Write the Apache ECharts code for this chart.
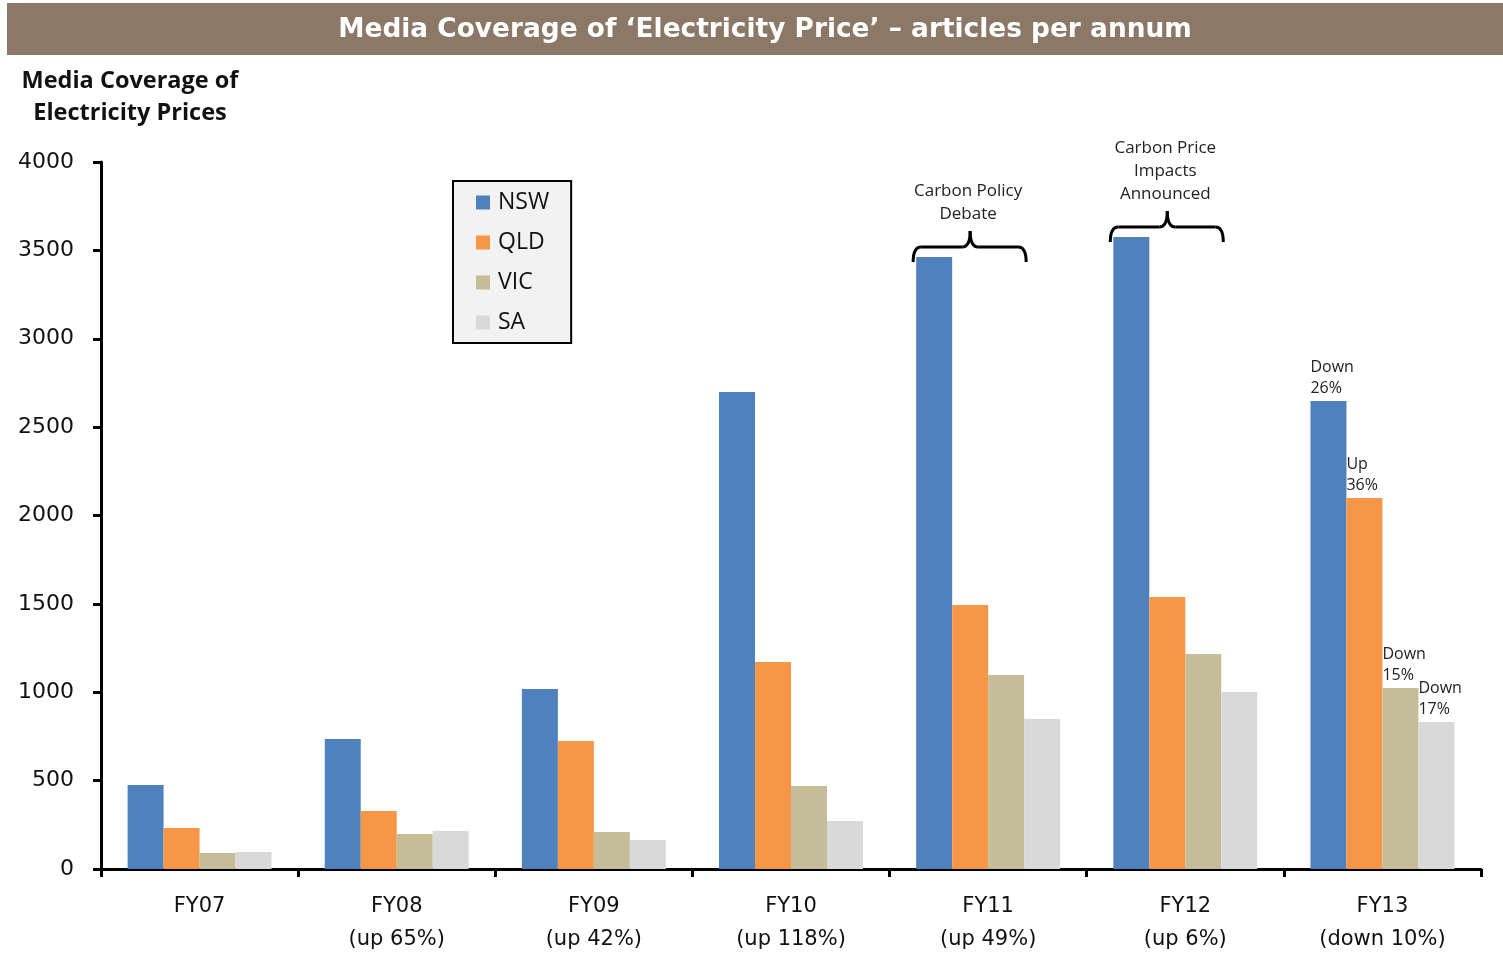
<!DOCTYPE html>
<html><head><meta charset="utf-8">
<script src="https://cdn.jsdelivr.net/npm/echarts@6/dist/echarts.min.js"></script>
<style>html,body{margin:0;padding:0;background:#fff}#c{width:1503px;height:958px}</style>
</head><body><div id="c"></div>
<script>
const categories = ['FY07','FY08','FY09','FY10','FY11','FY12','FY13'];
const changes = ['', '(up 65%)', '(up 42%)', '(up 118%)', '(up 49%)', '(up 6%)', '(down 10%)'];
const nsw = [475, 735, 1018, 2699, 3462, 3576, 2648];
const qld = [232, 328, 724, 1171, 1494, 1539, 2099];
const vic = [90, 198, 209, 470, 1098, 1216, 1024];
const sa  = [96, 215, 164, 272, 849, 1001, 832];
const nswNotes = ['', '', '', '', '', '', 'Down\n26%'];
const qldNotes = ['', '', '', '', '', '', 'Up\n36%'];
const vicNotes = ['', '', '', '', '', '', 'Down\n15%'];
const saNotes  = ['', '', '', '', '', '', 'Down\n17%'];
const yTicks = [0, 500, 1000, 1500, 2000, 2500, 3000, 3500, 4000];
const annotations = [
  {category: 'FY11', text: 'Carbon Policy\nDebate'},
  {category: 'FY12', text: 'Carbon Price\nImpacts\nAnnounced'}
];
const seriesNames = ['NSW', 'QLD', 'VIC', 'SA'];
const colors = ['#4F81BD', '#F79646', '#C4BD97', '#D9D9D9'];

const chart = echarts.init(document.getElementById('c'), null, {renderer: 'canvas'});

function mk(vals, notes) {
  return vals.map((v, i) => notes[i] ? {value: v, label: {show: true, formatter: notes[i]}} : v);
}
const labelBase = {
  show: false, position: [0, -2], align: 'left', verticalAlign: 'bottom',
  fontFamily: 'Open Sans', fontSize: 16, lineHeight: 21, color: '#222'
};
const allData = [mk(nsw, nswNotes), mk(qld, qldNotes), mk(vic, vicNotes), mk(sa, saNotes)];

chart.setOption({
  animation: false,
  backgroundColor: '#fff',
  color: colors,
  grid: {left: 101, right: 22, top: 162, bottom: 89, containLabel: false},
  legend: {
    orient: 'vertical', left: 453, top: 181,
    data: seriesNames,
    itemWidth: 14, itemHeight: 14, itemGap: 17,
    icon: 'rect',
    backgroundColor: '#f2f2f2', borderColor: '#000', borderWidth: 2, borderRadius: 0,
    padding: [10, 22, 9, 23],
    textStyle: {fontFamily: 'Open Sans', fontSize: 23, color: '#111', lineHeight: 22, padding: [0, 0, 0, 3]}
  },
  xAxis: {
    type: 'category', data: categories,
    axisLine: {lineStyle: {color: '#000', width: 3}},
    axisTick: {show: true, length: 8, lineStyle: {color: '#000', width: 3}},
    axisLabel: {
      margin: 21, fontFamily: 'DejaVu Sans', fontSize: 21, lineHeight: 33, color: '#111',
      formatter: (v) => changes[categories.indexOf(v)] ? v + '\n' + changes[categories.indexOf(v)] : v
    }
  },
  yAxis: {
    type: 'value', min: yTicks[0], max: yTicks[yTicks.length - 1], interval: yTicks[1] - yTicks[0],
    axisLine: {show: true, lineStyle: {color: '#000', width: 3}},
    axisTick: {show: true, length: 8, lineStyle: {color: '#000', width: 3}},
    splitLine: {show: false},
    axisLabel: {margin: 27, fontFamily: 'DejaVu Sans', fontSize: 22, color: '#111', formatter: (v) => String(v)}
  },
  series: seriesNames.map((n, k) => ({
    name: n, type: 'bar', data: allData[k],
    barGap: 0, barCategoryGap: '27%',
    label: labelBase,
    itemStyle: {color: colors[k]}
  })),
  graphic: [
    {id: 'tbar', type: 'rect', shape: {x: 7, y: 3, width: 1496, height: 52}, style: {fill: '#8B7866'}, z: 0},
    {id: 'ttext', type: 'text', x: 765, y: 30, style: {
      text: 'Media Coverage of \u2018Electricity Price\u2019 \u2013 articles per annum',
      fill: '#fff', font: 'bold 26.4px "DejaVu Sans"', textAlign: 'center', textVerticalAlign: 'middle'}, z: 10},
    {id: 'yname', type: 'text', x: 130, y: 97, style: {
      text: 'Media Coverage of\nElectricity Prices', fill: '#111', font: 'bold 23.5px "Open Sans"',
      lineHeight: 32, textAlign: 'center', textVerticalAlign: 'middle'}, z: 10}
  ]
});

// Annotation braces positioned through the chart's own coordinate system
const extra = [];
const bs = {stroke: '#000', lineWidth: 3, fill: null};
annotations.forEach((a, j) => {
  const idx = categories.indexOf(a.category);
  const p = chart.convertToPixel({gridIndex: 0}, [idx, nsw[idx]]);
  const cx = p[0], top = p[1];
  const h = top - 10, tip = h + 15, peak = h - 16;
  const l = cx - 75, r = cx + 38, m = cx - 18;
  const k = 8;
  const parts = [
    {type: 'bezierCurve', shape: {x1: l, y1: tip, cpx1: l, cpy1: h, x2: l + k, y2: h}},
    {type: 'line', shape: {x1: l + k, y1: h, x2: m - k, y2: h}},
    {type: 'bezierCurve', shape: {x1: m - k, y1: h, cpx1: m, cpy1: h, x2: m, y2: peak}},
    {type: 'bezierCurve', shape: {x1: m, y1: peak, cpx1: m, cpy1: h, x2: m + k, y2: h}},
    {type: 'line', shape: {x1: m + k, y1: h, x2: r - k, y2: h}},
    {type: 'bezierCurve', shape: {x1: r - k, y1: h, cpx1: r, cpy1: h, x2: r, y2: tip}}
  ];
  parts.forEach((pt, q) => extra.push(Object.assign({id: 'b' + j + '_' + q, style: bs, z: 10}, pt)));
  extra.push({id: 'atext' + j, type: 'text', x: cx - 20, y: h - 21, style: {
    text: a.text, fill: '#222', font: '17px "Open Sans"', lineHeight: 23,
    textAlign: 'center', textVerticalAlign: 'bottom'}, z: 10});
});
chart.setOption({graphic: extra});
</script>
</body></html>
